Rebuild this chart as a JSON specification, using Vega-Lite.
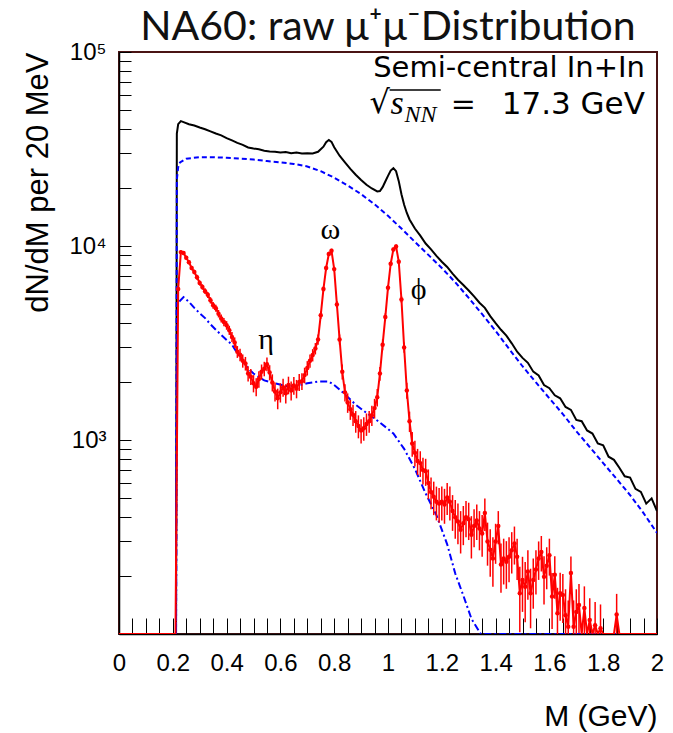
{
  "$schema": "https://vega.github.io/schema/vega-lite/v6.json",
  "width": 538,
  "height": 582,
  "autosize": {"type": "none"},
  "padding": {"left": 119, "top": 52, "right": 16, "bottom": 99},
  "background": "white",
  "config": {"view": {"stroke": "#4a1414", "strokeWidth": 2}},
  "title": {"text": "NA60: raw μ⁺μ⁻Distribution", "font": "Lato", "fontSize": 41, "fontWeight": "normal", "color": "#111111", "anchor": "middle", "frame": "group", "offset": -9},
  "datasets": {
    "black": [
      {"M":0,"v":100},{"M":0.2,"v":100},{"M":0.212,"v":100},{"M":0.215,"v":38000},{"M":0.22,"v":42500},{"M":0.23,"v":44000},{"M":0.24,"v":43500},{"M":0.26,"v":42400},{"M":0.28,"v":41800},{"M":0.30,"v":40800},{"M":0.32,"v":40000},{"M":0.34,"v":39000},{"M":0.36,"v":38000},{"M":0.38,"v":37200},{"M":0.40,"v":36000},{"M":0.42,"v":35000},{"M":0.44,"v":34000},{"M":0.46,"v":33200},{"M":0.48,"v":32200},{"M":0.50,"v":31800},{"M":0.52,"v":31500},{"M":0.54,"v":31000},{"M":0.56,"v":30700},{"M":0.58,"v":30600},{"M":0.60,"v":30300},{"M":0.62,"v":30500},{"M":0.64,"v":30100},{"M":0.66,"v":30300},{"M":0.68,"v":30000},{"M":0.70,"v":30100},{"M":0.72,"v":30000},{"M":0.74,"v":30600},{"M":0.76,"v":32500},{"M":0.77,"v":34300},{"M":0.78,"v":35200},{"M":0.79,"v":34400},{"M":0.80,"v":32300},{"M":0.82,"v":29200},{"M":0.84,"v":27000},{"M":0.86,"v":25000},{"M":0.88,"v":23300},{"M":0.90,"v":21900},{"M":0.92,"v":20700},{"M":0.94,"v":19800},{"M":0.96,"v":19100},{"M":0.97,"v":19200},{"M":0.98,"v":20100},{"M":0.99,"v":21500},{"M":1.00,"v":23000},{"M":1.01,"v":24500},{"M":1.02,"v":25200},{"M":1.03,"v":24300},{"M":1.04,"v":21600},{"M":1.05,"v":18500},{"M":1.06,"v":16300},{"M":1.07,"v":14800},{"M":1.08,"v":13700},{"M":1.10,"v":12300},{"M":1.12,"v":11300},{"M":1.14,"v":10300},{"M":1.16,"v":9600},{"M":1.18,"v":8900},{"M":1.20,"v":8300},{"M":1.22,"v":7800},{"M":1.24,"v":7200},{"M":1.26,"v":6700},{"M":1.28,"v":6300},{"M":1.30,"v":5900},{"M":1.32,"v":5500},{"M":1.34,"v":5100},{"M":1.36,"v":4800},{"M":1.38,"v":4350},{"M":1.40,"v":4000},{"M":1.42,"v":3700},{"M":1.44,"v":3450},{"M":1.46,"v":3150},{"M":1.48,"v":2850},{"M":1.50,"v":2650},{"M":1.52,"v":2500},{"M":1.54,"v":2250},{"M":1.56,"v":2150},{"M":1.58,"v":1920},{"M":1.60,"v":1850},{"M":1.62,"v":1700},{"M":1.64,"v":1640},{"M":1.66,"v":1480},{"M":1.68,"v":1430},{"M":1.70,"v":1270},{"M":1.72,"v":1250},{"M":1.74,"v":1120},{"M":1.76,"v":1080},{"M":1.78,"v":960},{"M":1.80,"v":940},{"M":1.82,"v":820},{"M":1.84,"v":790},{"M":1.86,"v":720},{"M":1.88,"v":650},{"M":1.90,"v":640},{"M":1.92,"v":560},{"M":1.94,"v":540},{"M":1.96,"v":470},{"M":1.98,"v":500},{"M":2.00,"v":430}
    ],
    "bdash": [
      {"M":0,"v":100},{"M":0.2,"v":100},{"M":0.212,"v":100},{"M":0.215,"v":22000},{"M":0.22,"v":25500},{"M":0.227,"v":27000},{"M":0.25,"v":28200},{"M":0.30,"v":28700},{"M":0.35,"v":28700},{"M":0.40,"v":28500},{"M":0.45,"v":28200},{"M":0.50,"v":27900},{"M":0.55,"v":27400},{"M":0.60,"v":27000},{"M":0.65,"v":26500},{"M":0.70,"v":25700},{"M":0.75,"v":24300},{"M":0.80,"v":22500},{"M":0.85,"v":20500},{"M":0.90,"v":18500},{"M":0.95,"v":16400},{"M":1.00,"v":14300},{"M":1.05,"v":12300},{"M":1.10,"v":10500},{"M":1.15,"v":9000},{"M":1.20,"v":7700},{"M":1.25,"v":6500},{"M":1.30,"v":5400},{"M":1.35,"v":4450},{"M":1.40,"v":3650},{"M":1.45,"v":2950},{"M":1.50,"v":2400},{"M":1.55,"v":1980},{"M":1.60,"v":1640},{"M":1.65,"v":1360},{"M":1.70,"v":1110},{"M":1.75,"v":920},{"M":1.80,"v":760},{"M":1.85,"v":630},{"M":1.90,"v":520},{"M":1.95,"v":420},{"M":2.00,"v":332}
    ],
    "bdd": [
      {"M":0,"v":100},{"M":0.2,"v":100},{"M":0.212,"v":100},{"M":0.216,"v":4500},{"M":0.22,"v":5100},{"M":0.24,"v":5450},{"M":0.26,"v":5150},{"M":0.28,"v":4800},{"M":0.30,"v":4500},{"M":0.32,"v":4250},{"M":0.34,"v":3950},{"M":0.36,"v":3700},{"M":0.38,"v":3480},{"M":0.40,"v":3280},{"M":0.42,"v":3100},{"M":0.44,"v":2800},{"M":0.46,"v":2550},{"M":0.48,"v":2340},{"M":0.50,"v":2200},{"M":0.54,"v":2030},{"M":0.58,"v":1960},{"M":0.62,"v":1900},{"M":0.66,"v":1900},{"M":0.70,"v":1960},{"M":0.74,"v":2000},{"M":0.78,"v":2000},{"M":0.80,"v":1920},{"M":0.84,"v":1720},{"M":0.88,"v":1520},{"M":0.92,"v":1380},{"M":0.96,"v":1260},{"M":1.00,"v":1140},{"M":1.02,"v":1080},{"M":1.06,"v":900},{"M":1.10,"v":710},{"M":1.14,"v":530},{"M":1.18,"v":410},{"M":1.22,"v":290},{"M":1.25,"v":205},{"M":1.28,"v":158},{"M":1.31,"v":120},{"M":1.33,"v":108},{"M":1.345,"v":100},{"M":2.00,"v":100}
    ],
    "red": [
      {"M":0,"v":100,"lo":100,"hi":100},{"M":0.2,"v":100,"lo":100,"hi":100},{"M":0.21,"v":100,"lo":100,"hi":100},
      {"M":0.22,"v":6000,"lo":5850,"hi":6150},{"M":0.23,"v":9300,"lo":9100,"hi":9500},{"M":0.24,"v":9200,"lo":9000,"hi":9400},{"M":0.25,"v":8700,"lo":8500,"hi":8900},{"M":0.26,"v":8250,"lo":8050,"hi":8450},{"M":0.27,"v":7700,"lo":7500,"hi":7900},{"M":0.28,"v":7350,"lo":7150,"hi":7550},{"M":0.29,"v":6900,"lo":6700,"hi":7100},{"M":0.30,"v":6450,"lo":6250,"hi":6650},{"M":0.31,"v":6150,"lo":5950,"hi":6350},{"M":0.32,"v":5850,"lo":5650,"hi":6050},{"M":0.33,"v":5600,"lo":5400,"hi":5800},{"M":0.34,"v":5250,"lo":5050,"hi":5450},{"M":0.35,"v":4950,"lo":4750,"hi":5150},{"M":0.36,"v":4780,"lo":4580,"hi":4980},{"M":0.37,"v":4480,"lo":4280,"hi":4680},{"M":0.38,"v":4230,"lo":4030,"hi":4430},{"M":0.39,"v":4060,"lo":3860,"hi":4260},{"M":0.40,"v":3900,"lo":3700,"hi":4100},{"M":0.41,"v":3680,"lo":3480,"hi":3880},{"M":0.42,"v":3400,"lo":3200,"hi":3600},{"M":0.43,"v":3180,"lo":2980,"hi":3380},{"M":0.44,"v":2850,"lo":2650,"hi":3050},{"M":0.45,"v":2750,"lo":2550,"hi":2950},{"M":0.46,"v":2560,"lo":2360,"hi":2760},{"M":0.47,"v":2480,"lo":2280,"hi":2680},{"M":0.48,"v":2200,"lo":2000,"hi":2400},{"M":0.49,"v":2120,"lo":1920,"hi":2320},{"M":0.50,"v":1960,"lo":1760,"hi":2160},{"M":0.51,"v":1880,"lo":1680,"hi":2080},{"M":0.52,"v":2060,"lo":1860,"hi":2260},{"M":0.53,"v":2250,"lo":2050,"hi":2450},{"M":0.54,"v":2330,"lo":2130,"hi":2530},{"M":0.55,"v":2460,"lo":2260,"hi":2660},{"M":0.56,"v":2230,"lo":2030,"hi":2430},{"M":0.57,"v":1980,"lo":1780,"hi":2180},{"M":0.58,"v":1780,"lo":1580,"hi":1980},{"M":0.59,"v":1640,"lo":1440,"hi":1840},{"M":0.60,"v":1760,"lo":1560,"hi":1960},{"M":0.61,"v":1870,"lo":1670,"hi":2070},{"M":0.62,"v":1740,"lo":1540,"hi":1940},{"M":0.63,"v":1920,"lo":1720,"hi":2120},{"M":0.64,"v":1800,"lo":1600,"hi":2000},{"M":0.65,"v":1910,"lo":1710,"hi":2110},{"M":0.66,"v":1840,"lo":1640,"hi":2040},{"M":0.67,"v":1990,"lo":1790,"hi":2190},{"M":0.68,"v":2010,"lo":1810,"hi":2210},{"M":0.69,"v":2160,"lo":1960,"hi":2360},{"M":0.70,"v":2350,"lo":2150,"hi":2550},{"M":0.71,"v":2560,"lo":2360,"hi":2760},{"M":0.72,"v":2740,"lo":2540,"hi":2940},{"M":0.73,"v":2960,"lo":2760,"hi":3160},{"M":0.74,"v":3300,"lo":3100,"hi":3500},{"M":0.75,"v":4400,"lo":4200,"hi":4600},{"M":0.76,"v":6000,"lo":5800,"hi":6200},{"M":0.77,"v":7700,"lo":7480,"hi":7920},{"M":0.78,"v":9100,"lo":8870,"hi":9330},{"M":0.79,"v":9450,"lo":9220,"hi":9680},{"M":0.80,"v":7600,"lo":7380,"hi":7820},{"M":0.81,"v":5000,"lo":4800,"hi":5200},{"M":0.82,"v":3300,"lo":3100,"hi":3500},{"M":0.83,"v":2250,"lo":2050,"hi":2450},{"M":0.84,"v":1760,"lo":1580,"hi":1940},{"M":0.85,"v":1560,"lo":1380,"hi":1740},{"M":0.86,"v":1440,"lo":1270,"hi":1610},{"M":0.87,"v":1350,"lo":1180,"hi":1520},{"M":0.88,"v":1250,"lo":1090,"hi":1410},{"M":0.89,"v":1180,"lo":1020,"hi":1340},{"M":0.90,"v":1120,"lo":960,"hi":1280},{"M":0.91,"v":1150,"lo":990,"hi":1310},{"M":0.92,"v":1210,"lo":1050,"hi":1370},{"M":0.93,"v":1250,"lo":1090,"hi":1410},{"M":0.94,"v":1340,"lo":1180,"hi":1500},{"M":0.95,"v":1460,"lo":1290,"hi":1630},{"M":0.96,"v":1660,"lo":1490,"hi":1830},{"M":0.97,"v":2200,"lo":2020,"hi":2380},{"M":0.98,"v":3100,"lo":2900,"hi":3300},{"M":0.99,"v":4300,"lo":4100,"hi":4500},{"M":1.00,"v":6100,"lo":5900,"hi":6300},{"M":1.01,"v":8100,"lo":7880,"hi":8320},{"M":1.02,"v":9600,"lo":9370,"hi":9830},{"M":1.03,"v":9950,"lo":9720,"hi":10180},{"M":1.04,"v":8300,"lo":8080,"hi":8520},{"M":1.05,"v":5300,"lo":5100,"hi":5500},{"M":1.06,"v":3000,"lo":2820,"hi":3180},{"M":1.07,"v":1800,"lo":1630,"hi":1970},{"M":1.08,"v":1250,"lo":1100,"hi":1400},{"M":1.09,"v":960,"lo":820,"hi":1100},{"M":1.10,"v":860,"lo":730,"hi":990},{"M":1.11,"v":780,"lo":660,"hi":900},{"M":1.12,"v":760,"lo":645,"hi":875},{"M":1.13,"v":700,"lo":590,"hi":810},{"M":1.14,"v":690,"lo":580,"hi":800},{"M":1.15,"v":600,"lo":495,"hi":705},{"M":1.16,"v":540,"lo":440,"hi":640},{"M":1.17,"v":510,"lo":410,"hi":610},{"M":1.18,"v":480,"lo":385,"hi":575},{"M":1.19,"v":470,"lo":375,"hi":565},{"M":1.20,"v":480,"lo":385,"hi":575},{"M":1.21,"v":465,"lo":370,"hi":560},{"M":1.22,"v":505,"lo":410,"hi":600},{"M":1.23,"v":480,"lo":385,"hi":575},{"M":1.24,"v":430,"lo":340,"hi":520},{"M":1.25,"v":400,"lo":310,"hi":490},{"M":1.26,"v":380,"lo":290,"hi":470},{"M":1.27,"v":345,"lo":260,"hi":430},{"M":1.28,"v":372,"lo":287,"hi":457},{"M":1.29,"v":400,"lo":315,"hi":485},{"M":1.30,"v":390,"lo":305,"hi":475},{"M":1.31,"v":325,"lo":245,"hi":405},{"M":1.32,"v":360,"lo":280,"hi":440},{"M":1.33,"v":385,"lo":305,"hi":465},{"M":1.34,"v":350,"lo":270,"hi":430},{"M":1.35,"v":330,"lo":250,"hi":410},{"M":1.36,"v":420,"lo":340,"hi":500},{"M":1.37,"v":300,"lo":225,"hi":375},{"M":1.38,"v":272,"lo":197,"hi":347},{"M":1.39,"v":245,"lo":175,"hi":315},{"M":1.40,"v":300,"lo":230,"hi":370},{"M":1.41,"v":360,"lo":290,"hi":430},{"M":1.42,"v":228,"lo":163,"hi":293},{"M":1.43,"v":245,"lo":180,"hi":310},{"M":1.44,"v":236,"lo":171,"hi":301},{"M":1.45,"v":250,"lo":185,"hi":315},{"M":1.46,"v":270,"lo":205,"hi":335},{"M":1.47,"v":293,"lo":228,"hi":358},{"M":1.48,"v":250,"lo":190,"hi":310},{"M":1.49,"v":162,"lo":102,"hi":222},{"M":1.50,"v":190,"lo":130,"hi":250},{"M":1.51,"v":175,"lo":115,"hi":235},{"M":1.52,"v":210,"lo":150,"hi":270},{"M":1.53,"v":162,"lo":107,"hi":217},{"M":1.54,"v":190,"lo":135,"hi":245},{"M":1.55,"v":215,"lo":160,"hi":270},{"M":1.56,"v":245,"lo":190,"hi":300},{"M":1.57,"v":265,"lo":210,"hi":320},{"M":1.58,"v":197,"lo":142,"hi":252},{"M":1.59,"v":225,"lo":170,"hi":280},{"M":1.60,"v":255,"lo":200,"hi":310},{"M":1.61,"v":156,"lo":106,"hi":206},{"M":1.62,"v":202,"lo":152,"hi":252},{"M":1.63,"v":128,"lo":83,"hi":173},{"M":1.64,"v":162,"lo":117,"hi":207},{"M":1.65,"v":159,"lo":114,"hi":204},{"M":1.66,"v":125,"lo":80,"hi":170},{"M":1.67,"v":109,"lo":69,"hi":149},{"M":1.68,"v":206,"lo":161,"hi":251},{"M":1.69,"v":109,"lo":69,"hi":149},{"M":1.70,"v":130,"lo":90,"hi":170},{"M":1.71,"v":141,"lo":101,"hi":181},{"M":1.72,"v":100,"lo":100,"hi":100},{"M":1.73,"v":136,"lo":96,"hi":176},{"M":1.74,"v":100,"lo":100,"hi":100},{"M":1.75,"v":118,"lo":83,"hi":153},{"M":1.76,"v":100,"lo":100,"hi":100},{"M":1.77,"v":111,"lo":76,"hi":146},{"M":1.78,"v":100,"lo":100,"hi":100},{"M":1.79,"v":107,"lo":72,"hi":142},{"M":1.80,"v":100,"lo":100,"hi":100},{"M":1.84,"v":100,"lo":100,"hi":100},{"M":1.85,"v":126,"lo":91,"hi":161},{"M":1.86,"v":100,"lo":100,"hi":100},{"M":2.00,"v":100,"lo":100,"hi":100}
    ]
  },
  "encoding": {
    "x": {
      "field": "M", "type": "quantitative",
      "scale": {"type": "linear", "domain": [0, 2], "nice": false, "zero": false},
      "axis": {
        "title": "M (GeV)",
        "values": [0,0.05,0.1,0.15,0.2,0.25,0.3,0.35,0.4,0.45,0.5,0.55,0.6,0.65,0.7,0.75,0.8,0.85,0.9,0.95,1,1.05,1.1,1.15,1.2,1.25,1.3,1.35,1.4,1.45,1.5,1.55,1.6,1.65,1.7,1.75,1.8,1.85,1.9,1.95,2],
        "labelExpr": "abs(datum.value*5 - round(datum.value*5)) < 0.001 ? format(datum.value, '~g') : ''",
        "labelFont": "Liberation Sans", "labelFontSize": 24, "labelColor": "#000000",
        "labelPadding": 33, "labelOverlap": false, "labelFlush": false,
        "tickSize": -16, "tickColor": "#000000", "tickWidth": 1,
        "domainColor": "#000000", "domainWidth": 1.5, "grid": false,
        "titleFont": "Liberation Sans", "titleFontSize": 30, "titleFontWeight": "normal", "titleColor": "#000000",
        "titleAnchor": "end", "titlePadding": 26,
        "encode": {"ticks": {"y2": {"value": {"expr": "abs(datum.value*5 - round(datum.value*5)) < 0.001 ? -16 : -8"}}}}
      }
    },
    "y": {
      "field": "v", "type": "quantitative",
      "scale": {"type": "log", "domain": [100, 100000], "nice": false},
      "axis": {
        "title": "dN/dM per 20 MeV",
        "values": [100,200,300,400,500,600,700,800,900,1000,2000,3000,4000,5000,6000,7000,8000,9000,10000,20000,30000,40000,50000,60000,70000,80000,90000,100000],
        "labelExpr": "datum.value == 100000 ? '10⁵' : datum.value == 10000 ? '10⁴' : datum.value == 1000 ? '10³' : ''",
        "labelFont": "Liberation Sans", "labelFontSize": 24, "labelColor": "#000000",
        "labelPadding": 25, "labelOverlap": false, "labelFlush": false,
        "tickSize": -12, "tickColor": "#000000", "tickWidth": 1,
        "domainColor": "#000000", "domainWidth": 1.5, "grid": false,
        "titleFont": "Liberation Sans", "titleFontSize": 31, "titleFontWeight": "normal", "titleColor": "#000000",
        "titleAnchor": "end", "titlePadding": 14,
        "encode": {"ticks": {"x2": {"value": {"expr": "(datum.value == 100 || datum.value == 1000 || datum.value == 10000 || datum.value == 100000) ? 12 : 7"}}}}
      }
    }
  },
  "layer": [
    {"data": {"name": "black"}, "mark": {"type": "line", "color": "#000000", "strokeWidth": 2, "clip": true}},
    {"data": {"name": "bdash"}, "mark": {"type": "line", "color": "#0000ff", "strokeWidth": 2, "strokeDash": [5, 3], "clip": true}},
    {"data": {"name": "bdd"}, "mark": {"type": "line", "color": "#0000ff", "strokeWidth": 2, "strokeDash": [7, 3, 2, 3], "clip": true}},
    {"data": {"name": "red"}, "mark": {"type": "rule", "color": "#ff0000", "strokeWidth": 1.5, "clip": true},
     "encoding": {"y": {"field": "lo", "type": "quantitative"}, "y2": {"field": "hi"}}},
    {"data": {"name": "red"}, "mark": {"type": "line", "color": "#ff0000", "strokeWidth": 2, "clip": true}},
    {"data": {"name": "red"}, "transform": [{"filter": "datum.v > 100"}], "mark": {"type": "point", "filled": true, "color": "#ff0000", "size": 20, "opacity": 1, "clip": true}},
    {"data": {"values": [{"M": 1.955, "v": 74300, "t": "Semi-central In+In"}]},
     "mark": {"type": "text", "font": "DejaVu Sans", "fontSize": 29, "align": "right", "baseline": "alphabetic", "color": "#000000"},
     "encoding": {"text": {"field": "t"}}},
    {"data": {"values": [{"M": 1.955, "v": 47900, "t": "17.3 GeV"}]},
     "mark": {"type": "text", "font": "DejaVu Sans", "fontSize": 31, "align": "right", "baseline": "alphabetic", "color": "#000000"},
     "encoding": {"text": {"field": "t"}}},
    {"data": {"values": [{"M": 1.233, "v": 47900, "t": "="}]},
     "mark": {"type": "text", "font": "DejaVu Serif", "fontSize": 30, "align": "left", "baseline": "alphabetic", "color": "#000000"},
     "encoding": {"text": {"field": "t"}}},
    {"data": {"values": [{"M": 0.931, "v": 48500, "t": "√"}]},
     "mark": {"type": "text", "font": "DejaVu Sans", "fontSize": 32, "align": "left", "baseline": "alphabetic", "color": "#000000"},
     "encoding": {"text": {"field": "t"}}},
    {"data": {"values": [{"M": 1.009, "v": 47900, "t": "s"}]},
     "mark": {"type": "text", "font": "Liberation Serif", "fontStyle": "italic", "fontSize": 34, "align": "left", "baseline": "alphabetic", "color": "#000000"},
     "encoding": {"text": {"field": "t"}}},
    {"data": {"values": [{"M": 1.061, "v": 43600, "t": "NN"}]},
     "mark": {"type": "text", "font": "Liberation Serif", "fontStyle": "italic", "fontSize": 24, "align": "left", "baseline": "alphabetic", "color": "#000000"},
     "encoding": {"text": {"field": "t"}}},
    {"data": {"values": [{"M": 1.006, "M2": 1.196, "v": 63700}]},
     "mark": {"type": "rule", "color": "#000000", "strokeWidth": 1.5},
     "encoding": {"x2": {"field": "M2"}}},
    {"data": {"values": [{"M": 0.786, "v": 12100, "t": "ω"}, {"M": 0.547, "v": 3270, "t": "η"}, {"M": 1.114, "v": 5930, "t": "ϕ"}]},
     "mark": {"type": "text", "font": "Liberation Serif", "fontSize": 30, "align": "center", "baseline": "middle", "color": "#000000"},
     "encoding": {"text": {"field": "t"}}}
  ]
}
